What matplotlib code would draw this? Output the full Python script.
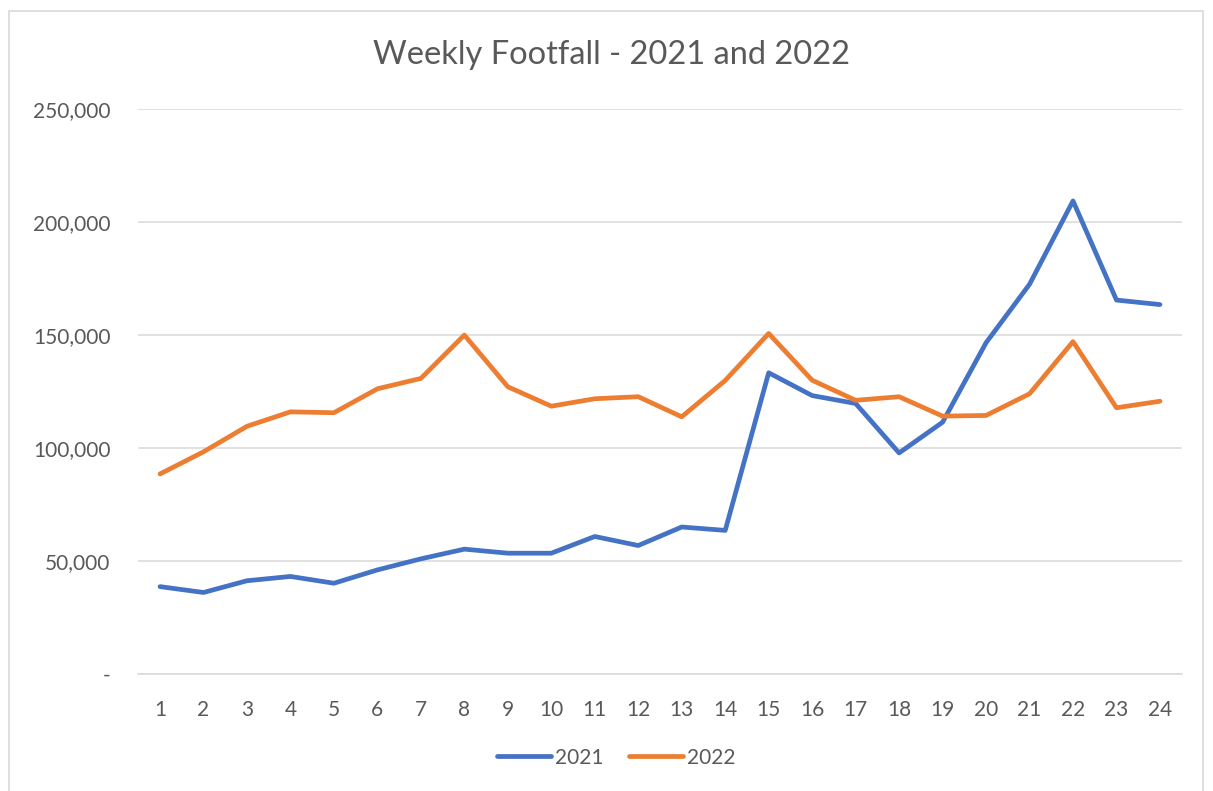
import matplotlib
matplotlib.use("Agg")
import matplotlib.pyplot as plt
from matplotlib.patches import Rectangle
from matplotlib.ticker import FuncFormatter

# weekly footfall
weeks = list(range(1, 25))
footfall_2021 = [38700, 36100, 41300, 43200, 40200, 46100, 51000, 55300, 53500, 53500,
                 60900, 56900, 65100, 63600, 133400, 123300, 119800, 97900, 111500, 146700,
                 172600, 209500, 165600, 163600]
footfall_2022 = [88600, 98400, 109700, 116100, 115700, 126300, 130900, 150100, 127200, 118600,
                 121900, 122800, 113900, 130000, 150800, 130100, 121200, 122800, 114200, 114500,
                 124100, 147200, 117900, 120800]
series_names = ["2021", "2022"]
y_ticks = [0, 50000, 100000, 150000, 200000, 250000]

plt.rcParams['font.family'] = ['Lato', 'DejaVu Sans']
txt = '#595959'

fig = plt.figure(figsize=(12.13, 7.91), dpi=100)
# outer chart border
fig.patches.append(Rectangle((9 / 1213, -0.05), 1194 / 1213, 1.05 - 11 / 791,
                             transform=fig.transFigure, fill=False,
                             edgecolor='#D9D9D9', linewidth=1.2))

ax = fig.add_axes([0.1140, 0.1479, 0.8602, 0.7137])
ax.plot(weeks, footfall_2021, color='#4472C4', linewidth=3.4, label=series_names[0],
        solid_capstyle='round', solid_joinstyle='round')
ax.plot(weeks, footfall_2022, color='#ED7D31', linewidth=3.4, label=series_names[1],
        solid_capstyle='round', solid_joinstyle='round')

ax.set_xlim(0.5, 24.5)
ax.set_ylim(0, 250000)
ax.set_xticks(weeks)
ax.set_yticks(y_ticks)
ax.yaxis.set_major_formatter(FuncFormatter(lambda v, p: '-' if v == 0 else f'{int(v):,}'))
ax.grid(axis='y', color='#D9D9D9', linewidth=1.1)
ax.set_axisbelow(True)
for s in ['top', 'right', 'left']:
    ax.spines[s].set_visible(False)
ax.spines['bottom'].set_color('#D9D9D9')
ax.spines['bottom'].set_linewidth(1.1)
ax.tick_params(axis='both', length=0, labelsize=15, labelcolor=txt)
ax.tick_params(axis='y', pad=20)
ax.tick_params(axis='x', pad=19)

fig.text(0.504, 0.930, 'Weekly Footfall - 2021 and 2022', ha='center', va='center',
         fontsize=23.5, color=txt)

leg = fig.legend(loc='center', bbox_to_anchor=(0.508, 0.042), ncol=2, frameon=False,
                 fontsize=15, handlelength=2.6, handletextpad=0.2, columnspacing=1.2)
for t in leg.get_texts():
    t.set_color(txt)

fig.savefig('out.png', dpi=100)
